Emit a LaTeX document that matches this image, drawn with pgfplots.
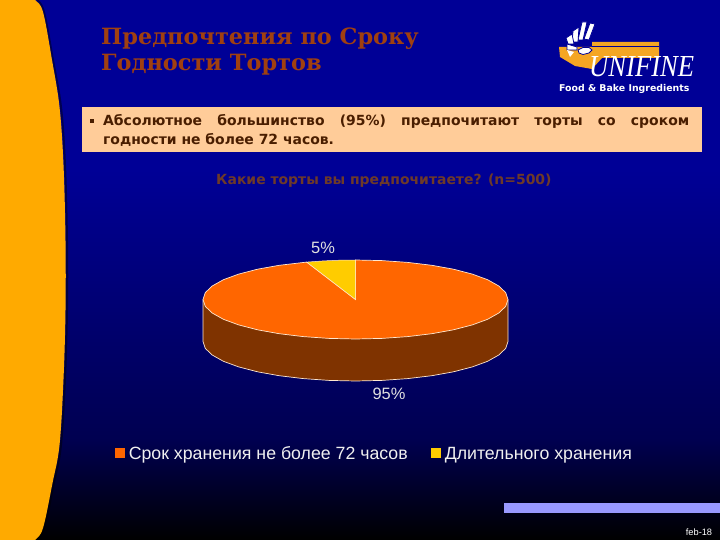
\documentclass[border=0pt]{standalone}
\usepackage{pgfplots}
\pgfplotsset{compat=1.18}
\usepackage{fontspec}
\setmainfont{Liberation Sans}
\newfontfamily\titlefont{DejaVu Serif}[BoldFont={DejaVu Serif Bold}]
\newfontfamily\boxfont{DejaVu Sans}[BoldFont={DejaVu Sans Bold}]
\newfontfamily\logofont{Liberation Serif}
\definecolor{bgblue}{HTML}{000096}
\definecolor{bgmid}{HTML}{000050}
\definecolor{sidebar}{HTML}{FFAA00}
\definecolor{titlecol}{HTML}{A04010}
\definecolor{boxfill}{HTML}{FFCC99}
\definecolor{boxtext}{HTML}{4A1E00}
\definecolor{askcol}{HTML}{6E3A28}
\definecolor{pieorange}{HTML}{FF6600}
\definecolor{pieyellow}{HTML}{FFCC00}
\definecolor{pieside}{HTML}{7F3300}
\definecolor{edgecol}{HTML}{FFE8D0}
\definecolor{barcol}{HTML}{9999FF}
\definecolor{logoor}{HTML}{F5A623}
\begin{document}
\begin{tikzpicture}
\begin{axis}[
  scale only axis, width=720bp, height=540bp,
  xmin=0, xmax=720, ymin=0, ymax=540, y dir=reverse,
  hide axis, clip=true,
  legend columns=2,
  legend cell align=left,
  legend style={draw=none, fill=none, text=white!94!black, at={(0.155,0.1565)}, anchor=west,
    font=\fontsize{17.8}{19}\selectfont,
    nodes={text height=13bp, text depth=4bp},
    /tikz/every even column/.append style={column sep=21bp},
    /tikz/every odd column/.append style={column sep=2bp}},
  legend image code/.code={\fill[#1, draw=none] (0bp,-3bp) rectangle (10bp,7bp);},
]
% background
\fill[bgblue] (axis cs:0,0) rectangle (axis cs:720,170);
\shade[top color=bgblue, bottom color=bgmid, shading angle=0] (axis cs:0,170) rectangle (axis cs:720,440.5);
\shade[top color=bgmid, bottom color=black, shading angle=0] (axis cs:0,440) rectangle (axis cs:720,540);
% left shape
\addplot[draw=black, draw opacity=0.45, line width=2bp, fill=none, forget plot, smooth, tension=0.6] coordinates {
(37,0) (44,12) (53,60) (61,107) (65,165) (67,241) (67,310) (65,379) (61,445) (54,483) (44,528) (37,540)};
\addplot[draw=none, fill=sidebar, forget plot, smooth, tension=0.6] coordinates {
(-60,-30) (26,-10) (35,0) (43,12) (52,60) (59.5,107) (63.5,165) (65.5,241) (65.5,310) (63.5,379) (59.5,445) (52.5,483) (43,528) (35,540) (26,550) (-60,570)} -- cycle;
% text box
\addplot[draw=none, fill=boxfill, forget plot] coordinates {(82,107) (702,107) (702,152) (82,152)} -- cycle;
% bottom bar
\addplot[draw=none, fill=barcol, forget plot] coordinates {(504,503) (720,503) (720,513) (504,513)} -- cycle;
% pie side
\addplot[draw=none, fill=pieside, forget plot] coordinates {
(203,299.5) (203,341.5) (205.3,348.4) (212.2,355) (223.4,361.3) (238.7,366.9) (257.5,371.8) (279.2,375.7) (303.3,378.6) (329,380.4) (355.5,381)
(382,380.4) (407.7,378.6) (431.8,375.7) (453.5,371.8) (472.3,366.9) (487.6,361.3) (498.8,355) (505.7,348.4) (508,341.5) (508,299.5)} -- cycle;
\addplot[draw=edgecol, line width=0.7bp, forget plot] coordinates {
(203,299.5) (203,341.5) (205.3,348.4) (212.2,355) (223.4,361.3) (238.7,366.9) (257.5,371.8) (279.2,375.7) (303.3,378.6) (329,380.4) (355.5,381)
(382,380.4) (407.7,378.6) (431.8,375.7) (453.5,371.8) (472.3,366.9) (487.6,361.3) (498.8,355) (505.7,348.4) (508,341.5) (508,299.5)};
% 95% slice
\addplot[draw=edgecol, line width=0.7bp, fill=pieorange] coordinates {
(355.5,299.5) (355.5,260) (382,260.6) (407.7,262.4) (431.8,265.3) (453.5,269.2) (472.3,274.1) (487.6,279.7) (498.8,286) (505.7,292.6) (508,299.5)
(505.7,306.4) (498.8,313) (487.6,319.3) (472.3,324.9) (453.5,329.8) (431.8,333.7) (407.7,336.6) (382,338.4) (355.5,339)
(329,338.4) (303.3,336.6) (279.2,333.7) (257.5,329.8) (238.7,324.9) (223.4,319.3) (212.2,313) (205.3,306.4) (203,299.5)
(205.3,292.6) (212.2,286) (223.4,279.7) (238.7,274.1) (257.5,269.2) (279.2,265.3) (306.7,262.1)} -- cycle;
\addlegendentry{Срок хранения не более 72 часов}
% 5% slice
\addplot[draw=edgecol, line width=0.5bp, fill=pieyellow] coordinates {
(355.5,299.5) (306.7,262.1) (323.5,260.9) (339.5,260.2) (355.5,260)} -- cycle;
\addlegendentry{Длительного хранения}
% labels
\node[text=white!88!black, font=\fontsize{16.5}{18}\selectfont] at (axis cs:323,248) {5\%};
\node[text=white!88!black, font=\fontsize{16.5}{18}\selectfont] at (axis cs:389,394) {95\%};
% title
\node[anchor=base west, text=titlecol, inner sep=0, font=\titlefont\bfseries\fontsize{22.5}{24}\selectfont] at (axis cs:101,45) {Предпочтения по Сроку};
\node[anchor=base west, text=titlecol, inner sep=0, font=\titlefont\bfseries\fontsize{22.5}{24}\selectfont] at (axis cs:101,71) {Годности Тортов};
% box text
\node[anchor=base west, text=boxtext, inner sep=0, font=\boxfont\bfseries\fontsize{14}{16}\selectfont] at (axis cs:103,126) {\makebox[586bp][s]{Абсолютное большинство (95\%) предпочитают торты со сроком}};
\node[anchor=base west, text=boxtext, inner sep=0, font=\boxfont\bfseries\fontsize{14}{16}\selectfont] at (axis cs:103,145) {годности не более 72 часов.};
\addplot[draw=none, fill=boxtext, forget plot] coordinates {(90,119) (94,119) (94,123) (90,123)} -- cycle;
% question
\node[anchor=base west, text=askcol, inner sep=0, font=\boxfont\bfseries\fontsize{14}{16}\selectfont] at (axis cs:216,185) {Какие торты вы предпочитаете? (n=500)};
% logo
\addplot[draw=none, fill=logoor, forget plot] coordinates {(559,47) (592,47) (592,42) (659,42) (659,58) (602,58) (592,69) (575,66) (560,57)} -- cycle;
\addplot[draw=bgblue, line width=0.7bp, forget plot] coordinates {(592,46) (659,46)};
\addplot[draw=bgblue, line width=0.8bp, fill=white, forget plot] coordinates {(595,24) (590,23) (584,39) (589,40)} -- cycle;
\addplot[draw=bgblue, line width=0.8bp, fill=white, forget plot] coordinates {(587,22) (582,22) (578,40) (583,40)} -- cycle;
\addplot[draw=bgblue, line width=0.8bp, fill=white, forget plot] coordinates {(579,27) (573,31) (572,42) (578,42)} -- cycle;
\addplot[draw=bgblue, line width=0.8bp, fill=white, forget plot] coordinates {(572,34) (566,38) (568,44) (574,44)} -- cycle;
\addplot[draw=bgblue, line width=0.8bp, fill=white, forget plot] coordinates {(567,44) (577,47) (577,50) (567,50)} -- cycle;
\addplot[draw=none, fill=white, forget plot] coordinates {(567,50) (574,52) (570,57)} -- cycle;
\addplot[draw=bgblue, line width=0.8bp, fill=white, forget plot] coordinates {(578,50) (583,47.5) (589,47.5) (592,50) (589,53) (583,54.5) (579,53)} -- cycle;
\node[anchor=base west, text=white, inner sep=0, font=\logofont\itshape\fontsize{22}{24}\selectfont] at (axis cs:589,77) {\resizebox{105bp}{20bp}{UNIFINE}};
\node[anchor=base west, text=white, inner sep=0, font=\boxfont\bfseries\fontsize{9.4}{11}\selectfont] at (axis cs:559,92) {Food \& Bake Ingredients};
% date
\node[text=white, inner sep=0, font=\fontsize{9.3}{10}\selectfont] at (axis cs:699,532) {feb-18};
\end{axis}
\end{tikzpicture}
\end{document}
